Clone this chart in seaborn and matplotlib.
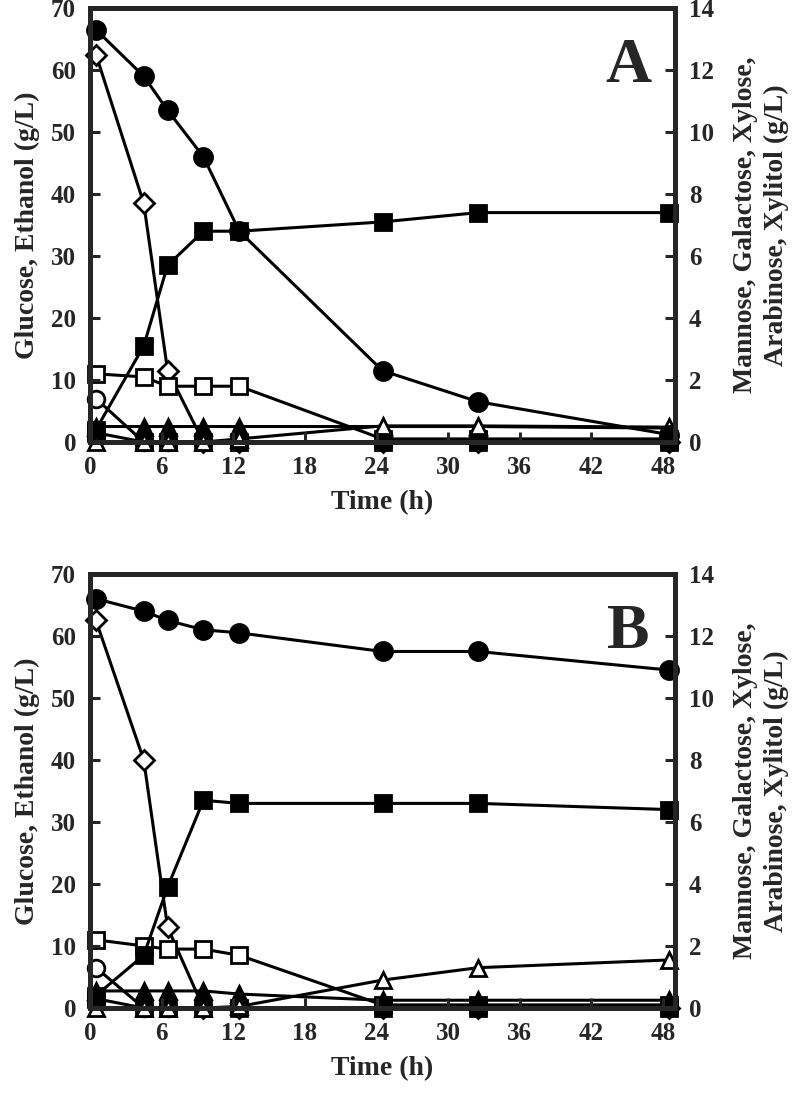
import numpy as np
import pandas as pd
import matplotlib
matplotlib.use('Agg')
import matplotlib.pyplot as plt
import seaborn as sns

# sampling times (h)
time = [0.5, 4.5, 6.5, 9.5, 12.5, 24.5, 32.5, 48.5]

# Panel A, left axis (g/L)
glucose_a = [66.5, 59.0, 53.5, 46.0, 34.0, 11.5, 6.5, 1.2]
ethanol_a = [2.0, 15.5, 28.5, 34.0, 34.0, 35.5, 37.0, 37.0]
# Panel A, right axis (g/L)
mannose_a = [12.5, 7.7, 2.3, 0.0, 0.0, 0.0, 0.0, 0.0]
galactose_a = [2.2, 2.1, 1.8, 1.8, 1.8, 0.1, 0.1, 0.1]
xylose_a = [1.4, 0.0, 0.0, 0.0, 0.0, 0.0, 0.0, 0.0]
arabinose_a = [0.5, 0.5, 0.5, 0.5, 0.5, 0.5, 0.5, 0.45]
xylitol_a = [0.0, 0.0, 0.0, 0.0, 0.1, 0.52, 0.52, 0.48]
other_a = [0.3, 0.0, 0.0, 0.0, 0.0, 0.0, 0.0, 0.0]

# Panel B, left axis (g/L)
glucose_b = [66.0, 64.0, 62.5, 61.0, 60.5, 57.5, 57.5, 54.5]
ethanol_b = [2.0, 8.5, 19.5, 33.5, 33.0, 33.0, 33.0, 32.0]
# Panel B, right axis (g/L)
mannose_b = [12.5, 8.0, 2.6, 0.0, 0.0, 0.0, 0.0, 0.0]
galactose_b = [2.2, 2.0, 1.9, 1.9, 1.7, 0.1, 0.1, 0.1]
xylose_b = [1.3, 0.0, 0.0, 0.0, 0.0, 0.0, 0.0, 0.0]
arabinose_b = [0.55, 0.55, 0.55, 0.55, 0.45, 0.25, 0.25, 0.25]
xylitol_b = [0.0, 0.0, 0.0, 0.0, 0.05, 0.9, 1.3, 1.55]
other_b = [0.3, 0.0, 0.0, 0.0, 0.0, 0.0, 0.0, 0.0]

sns.set_style('ticks')
plt.rcParams['font.family'] = ['Liberation Serif', 'DejaVu Serif']
plt.rcParams['font.weight'] = 'bold'
plt.rcParams['axes.labelweight'] = 'bold'

fig = plt.figure(figsize=(8, 10.96), dpi=100)

ms = 12
lw = 2.2


def draw(ax, y, marker, filled, size=ms):
    sns.lineplot(x=time, y=y, ax=ax, color='black', linewidth=lw,
                 marker=marker, markersize=size,
                 markerfacecolor='black' if filled else 'white',
                 markeredgecolor='black', markeredgewidth=2.0,
                 clip_on=False, legend=False)


def panel(rect, letter, glu, eth, man, gal, xyl, ara, xyt, oth):
    ax = fig.add_axes(rect)
    ax2 = ax.twinx()
    # right axis series first so the left-axis ones sit on top
    draw(ax2, man, 'D', False, 10)
    draw(ax2, gal, 's', False)
    draw(ax2, xyl, 'o', False)
    draw(ax2, ara, '^', True)
    draw(ax2, oth, 's', True, 11)
    draw(ax2, xyt, '^', False)
    draw(ax, glu, 'o', True, 13)
    draw(ax, eth, 's', True)
    ax.set_zorder(ax2.get_zorder() + 1)
    ax.patch.set_visible(False)

    ax.set_xlim(0, 49)
    ax.set_ylim(0, 70)
    ax2.set_ylim(0, 14)
    ax.set_xticks(np.arange(0, 49, 6))
    ax.set_yticks(np.arange(0, 71, 10))
    ax2.set_yticks(np.arange(0, 15, 2))
    for a in (ax, ax2):
        a.tick_params(direction='in', length=7, width=2.2, labelsize=18, pad=10)
        for s in a.spines.values():
            s.set_linewidth(3.5)
            s.set_visible(True)
    ax.set_xlabel('Time (h)', fontsize=20, labelpad=8)
    ax.set_ylabel('Glucose, Ethanol (g/L)', fontsize=20, labelpad=8)
    ax2.set_ylabel('Mannose, Galactose, Xylose,\nArabinose, Xylitol (g/L)',
                   fontsize=20, labelpad=14, rotation=90, linespacing=1.3)
    ax.text(45.1, 60.5, letter, fontsize=46, fontweight='bold', ha='center', va='center')


panel([0.1125, 0.5967, 0.7313, 0.396], 'A', glucose_a, ethanol_a, mannose_a,
      galactose_a, xylose_a, arabinose_a, xylitol_a, other_a)
panel([0.1125, 0.0803, 0.7313, 0.396], 'B', glucose_b, ethanol_b, mannose_b,
      galactose_b, xylose_b, arabinose_b, xylitol_b, other_b)

fig.savefig('out.png', dpi=100)
